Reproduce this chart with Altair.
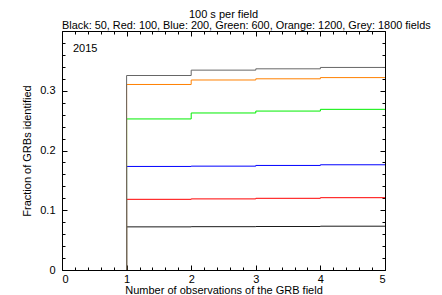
import altair as alt
import pandas as pd

# ---- data ----
observations = [1, 2, 3, 4, 5]
series_names = ["Black: 50", "Red: 100", "Blue: 200", "Green: 600", "Orange: 1200", "Grey: 1800"]
series_colors = ["#1a1a1a", "#ff0000", "#0000ff", "#00ee00", "#ff8000", "#666666"]
# fraction identified for interval starting at 1, 2, 3, 4 observations
black_vals = [0.0722, 0.0725, 0.0728, 0.0733]
red_vals = [0.1183, 0.1190, 0.1200, 0.1210]
blue_vals = [0.1733, 0.1738, 0.1750, 0.1761]
green_vals = [0.2528, 0.2628, 0.2660, 0.2689]
orange_vals = [0.3105, 0.3180, 0.3200, 0.3220]
grey_vals = [0.3255, 0.3345, 0.3367, 0.3390]

title_text = "100 s per field"
subtitle_text = "Black: 50, Red: 100, Blue: 200, Green: 600, Orange: 1200, Grey: 1800 fields"
year_text = "2015"
x_title = "Number of observations of the GRB field"
y_title = "Fraction of GRBs identified"

x_label_values = [0, 1, 2, 3, 4, 5]
y_label_values = [0, 0.1, 0.2, 0.3]
x_tick_values = [round(i * 0.2, 1) for i in range(26)]
y_tick_values = [round(i * 0.02, 2) for i in range(21)]

W, H = 323, 239
FONT = "Liberation Sans"

rows = []
all_vals = [black_vals, red_vals, blue_vals, green_vals, orange_vals, grey_vals]
for s, (name, vals) in enumerate(zip(series_names, all_vals)):
    pts = [(observations[0], 0.0)] + [(observations[k], vals[k]) for k in range(len(vals))] + [(observations[-1], vals[-1])]
    for i, (x, y) in enumerate(pts):
        rows.append({"series": name, "s": s, "i": i, "x": x, "y": y})
df = pd.DataFrame(rows)

xscale = alt.Scale(domain=[0, 5], nice=False, zero=False)
yscale = alt.Scale(domain=[0, 0.4], nice=False)

x_tick_size = {"condition": {"test": "abs(datum.value - round(datum.value)) < 0.001", "value": 5}, "value": 3}
y_tick_size = {"condition": {"test": "abs(datum.value * 10 - round(datum.value * 10)) < 0.001", "value": 5}, "value": 3}

base = alt.Chart(df)

lines = base.mark_line(interpolate="step-after", strokeWidth=1).encode(
    x=alt.X("x:Q", scale=xscale, axis=alt.Axis(
        values=x_label_values, format="~g", ticks=False, tickSize=0, domain=False, grid=False,
        labelPadding=3, title=x_title, titlePadding=0)),
    y=alt.Y("y:Q", scale=yscale, axis=alt.Axis(
        values=y_label_values, format="~g", ticks=False, tickSize=0, domain=False, grid=False,
        labelPadding=7, title=y_title, titlePadding=7)),
    color=alt.Color("series:N", scale=alt.Scale(domain=series_names, range=series_colors), legend=None),
    detail="series:N",
    order="i:Q",
)

ticks_a = base.mark_point(opacity=0).encode(
    x=alt.X("x:Q", scale=xscale, axis=alt.Axis(
        orient="top", offset=-H, values=x_tick_values, labels=False, domain=False, grid=False,
        tickSize=x_tick_size, tickColor="black", title=None)),
    y=alt.Y("y:Q", scale=yscale, axis=alt.Axis(
        orient="right", offset=-W, values=y_tick_values, labels=False, domain=False, grid=False,
        tickSize=y_tick_size, tickColor="black", title=None)),
)

ticks_b = base.mark_point(opacity=0).encode(
    x=alt.X("x:Q", scale=xscale, axis=alt.Axis(
        orient="bottom", offset=-H, values=x_tick_values, labels=False, domain=False, grid=False,
        tickSize=x_tick_size, tickColor="black", title=None)),
    y=alt.Y("y:Q", scale=yscale, axis=alt.Axis(
        orient="left", offset=-W, values=y_tick_values, labels=False, domain=False, grid=False,
        tickSize=y_tick_size, tickColor="black", title=None)),
)

title_mark = alt.Chart(pd.DataFrame({"t": [title_text]})).mark_text(
    font=FONT, fontSize=11, align="center", baseline="alphabetic", color="black"
).encode(x=alt.value(W / 2), y=alt.value(-13), text="t:N")

subtitle_mark = alt.Chart(pd.DataFrame({"t": [subtitle_text]})).mark_text(
    font=FONT, fontSize=10.9, align="left", baseline="alphabetic", color="black"
).encode(x=alt.value(0), y=alt.value(-2.5), text="t:N")

year_mark = alt.Chart(pd.DataFrame({"t": [year_text]})).mark_text(
    font=FONT, fontSize=11, align="left", baseline="middle", color="black"
).encode(x=alt.value(11), y=alt.value(18), text="t:N")

chart = alt.layer(lines, ticks_a, ticks_b, title_mark, subtitle_mark, year_mark).resolve_axis(
    x="independent", y="independent"
).properties(
    width=W, height=H,
    autosize=alt.AutoSizeParams(type="none"),
    padding={"left": 54, "top": 23, "right": 48, "bottom": 32},
).configure_view(
    stroke="black", strokeWidth=1
).configure_axis(
    labelFont=FONT, titleFont=FONT, labelFontSize=11, titleFontSize=11,
    labelColor="black", titleColor="black", titleFontWeight="normal"
)

chart.save("out.html", embed_options={"renderer": "svg", "actions": False})
